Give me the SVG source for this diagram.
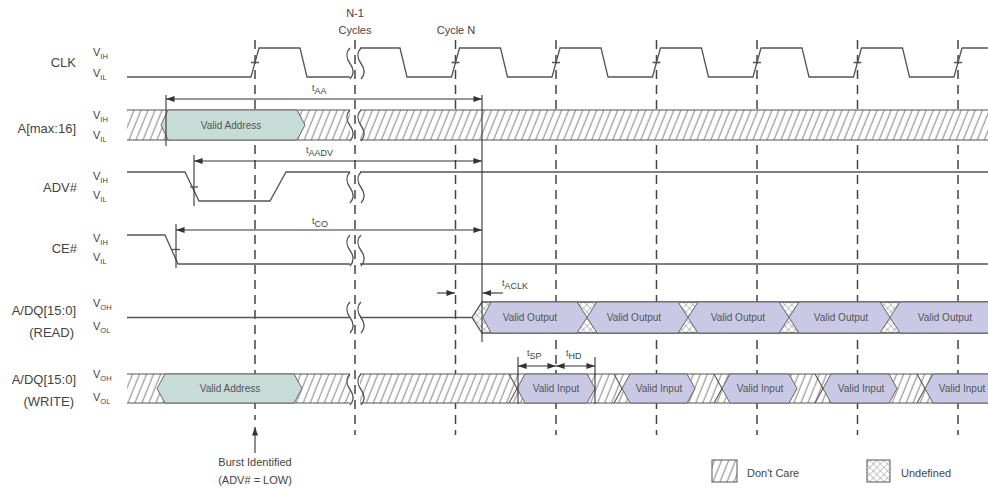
<svg xmlns="http://www.w3.org/2000/svg" width="988" height="489" viewBox="0 0 988 489">
<defs>
<pattern id="hatch" patternUnits="userSpaceOnUse" width="6.5" height="10" patternTransform="rotate(22)">
<rect width="6.5" height="10" fill="#fff"/>
<line x1="3" y1="-1" x2="3" y2="11" stroke="#707070" stroke-width="0.9"/>
</pattern>
<pattern id="xhatch" patternUnits="userSpaceOnUse" width="5" height="5" patternTransform="rotate(45)">
<rect width="5" height="5" fill="#fff"/>
<path d="M0,0 V5 M0,0 H5" stroke="#7a7a7a" stroke-width="0.8"/>
</pattern>
<marker id="ah" viewBox="0 0 10 7" refX="10" refY="3.5" markerWidth="9" markerHeight="6" markerUnits="userSpaceOnUse" orient="auto-start-reverse"><path d="M0,0 L10,3.5 L0,7 z" fill="#333"/></marker>
<path id="sq" d="M0,0 c-4,4 -4,10 0,15.5 c4,5.5 4,11 0,15.5" fill="none"/>
</defs>
<style>
.lbl{font-family:"Liberation Sans",Arial,sans-serif;fill:#444}
.sig{font-size:13px;text-anchor:end}
.v{font-size:11px}
.sub{font-size:7.5px}
.tl{font-size:9px}
.tl .sub{font-size:9px}
.wave{fill:none;stroke:#555;stroke-width:1.3}
.bus{fill:none;stroke:#555;stroke-width:1.1}
.va{fill:#c7dcd7;stroke:#666;stroke-width:1}
.vo{fill:#c9c9e6;stroke:#666;stroke-width:1}
.bt{font-family:"Liberation Sans",Arial,sans-serif;font-size:10px;fill:#555;text-anchor:middle}
.dash{stroke:#444;stroke-width:1.5;stroke-dasharray:9 6}
.conn{stroke:#333;stroke-width:1.1;fill:none}
.arr{stroke:#333;stroke-width:1.1;fill:none;marker-start:url(#ah);marker-end:url(#ah)}
.arr1{stroke:#333;stroke-width:1.1;fill:none;marker-end:url(#ah)}
.mid{text-anchor:middle}
</style>

<g id="gridlines">
<line class="dash" x1="255" y1="40" x2="255" y2="420"/>
<line class="dash" x1="355" y1="40" x2="355" y2="435"/>
<line class="dash" x1="455.5" y1="40" x2="455.5" y2="435"/>
<line class="dash" x1="556" y1="40" x2="556" y2="435"/>
<line class="dash" x1="656.5" y1="40" x2="656.5" y2="435"/>
<line class="dash" x1="757" y1="40" x2="757" y2="435"/>
<line class="dash" x1="857.5" y1="40" x2="857.5" y2="435"/>
<line class="dash" x1="958" y1="40" x2="958" y2="435"/>
</g>

<g id="top-labels" class="lbl" font-size="11">
<text x="355" y="17" class="mid">N-1</text>
<text x="355" y="34" class="mid">Cycles</text>
<text x="456" y="34" class="mid">Cycle N</text>
</g>

<g id="clk">
<text class="lbl sig" x="76" y="67">CLK</text>
<text class="lbl v" x="93" y="56">V<tspan class="sub" dy="3">IH</tspan></text>
<text class="lbl v" x="93" y="77">V<tspan class="sub" dy="3">IL</tspan></text>
<path class="wave" d="M127,77 H251 L259,48 H300 L307,77 H350 M360,48 H400 L407,77 H451.5 L459.5,48 H500.5 L507.5,77 H552 L560,48 H601 L608,77 H652.5 L660.5,48 H701.5 L708.5,77 H753 L761,48 H802 L809,77 H853.5 L861.5,48 H902.5 L909.5,77 H954 L962,48 H988"/>
<path class="wave" d="M251,62.5 h8 M451.5,62.5 h8 M552,62.5 h8 M652.5,62.5 h8 M753,62.5 h8 M853.5,62.5 h8 M954,62.5 h8"/>
<use href="#sq" x="350" y="48" class="wave"/>
<use href="#sq" x="361" y="48" class="wave"/>
</g>

<g id="addr">
<text class="lbl sig" x="76" y="133">A[max:16]</text>
<text class="lbl v" x="93" y="119">V<tspan class="sub" dy="3">IH</tspan></text>
<text class="lbl v" x="93" y="139">V<tspan class="sub" dy="3">IL</tspan></text>
<rect x="127" y="110" width="223" height="30" fill="url(#hatch)"/>
<rect x="360" y="110" width="635" height="30" fill="url(#hatch)"/>
<path class="bus" d="M127,110 H350 M360,110 H995 M127,140 H350 M360,140 H995"/>
<polygon class="va" points="161,125 168,110 297,110 305,125 297,140 168,140"/>
<text class="bt" x="231" y="129">Valid Address</text>
<use href="#sq" x="350" y="110" class="wave"/>
<use href="#sq" x="361" y="110" class="wave"/>
</g>

<g id="adv">
<text class="lbl sig" x="77" y="192">ADV#</text>
<text class="lbl v" x="93" y="180">V<tspan class="sub" dy="3">IH</tspan></text>
<text class="lbl v" x="93" y="199">V<tspan class="sub" dy="3">IL</tspan></text>
<path class="wave" d="M127,172 H185 L199,201 H270 L286,172 H350 M360,172 H988"/>
<path class="wave" d="M190,187 h8"/>
<use href="#sq" x="350" y="172" class="wave"/>
<use href="#sq" x="361" y="172" class="wave"/>
</g>

<g id="ce">
<text class="lbl sig" x="77" y="253">CE#</text>
<text class="lbl v" x="93" y="242">V<tspan class="sub" dy="3">IH</tspan></text>
<text class="lbl v" x="93" y="261">V<tspan class="sub" dy="3">IL</tspan></text>
<path class="wave" d="M127,235 H165 L178,264 H350 M360,264 H988"/>
<path class="wave" d="M172,249.5 h8"/>
<use href="#sq" x="350" y="235" class="wave"/>
<use href="#sq" x="361" y="235" class="wave"/>
</g>

<g id="dq-read">
<text class="lbl sig" x="76" y="315">A/DQ[15:0]</text>
<text class="lbl sig" x="74" y="337">(READ)</text>
<text class="lbl v" x="93" y="307">V<tspan class="sub" dy="3">OH</tspan></text>
<text class="lbl v" x="93" y="330">V<tspan class="sub" dy="3">OL</tspan></text>
<polygon points="472,317.5 482,302 995,302 995,333 482,333" fill="url(#xhatch)"/>
<path class="wave" d="M127,317.5 H350 M360,317.5 H472 L482,302 H995 M472,317.5 L482,333 H995"/>
<polygon class="vo" points="483,317.5 491,302 577,302 587,317.5 577,333 491,333"/>
<polygon class="vo" points="587,317.5 597,302 678,302 688,317.5 678,333 597,333"/>
<polygon class="vo" points="688,317.5 698,302 779,302 789,317.5 779,333 698,333"/>
<polygon class="vo" points="789,317.5 799,302 880,302 890,317.5 880,333 799,333"/>
<polygon class="vo" points="890,317.5 900,302 995,302 995,333 900,333"/>
<text class="bt" x="530" y="321">Valid Output</text>
<text class="bt" x="634" y="321">Valid Output</text>
<text class="bt" x="738" y="321">Valid Output</text>
<text class="bt" x="841" y="321">Valid Output</text>
<text class="bt" x="945" y="321">Valid Output</text>
<use href="#sq" x="350" y="302" class="wave"/>
<use href="#sq" x="361" y="302" class="wave"/>
</g>

<g id="dq-write">
<text class="lbl sig" x="76" y="384">A/DQ[15:0]</text>
<text class="lbl sig" x="74" y="406">(WRITE)</text>
<text class="lbl v" x="93" y="378">V<tspan class="sub" dy="3">OH</tspan></text>
<text class="lbl v" x="93" y="401">V<tspan class="sub" dy="3">OL</tspan></text>
<rect x="127" y="374" width="223" height="29" fill="url(#hatch)"/>
<rect x="360" y="374" width="635" height="29" fill="url(#hatch)"/>
<path class="bus" d="M127,374 H350 M360,374 H995 M127,403 H350 M360,403 H995"/>
<polygon class="va" points="157,388.5 165,374 294,374 302,388.5 294,403 165,403"/>
<text class="bt" x="230" y="392">Valid Address</text>
<polygon class="vo" points="517,388.5 525,374 587,374 595,388.5 587,403 525,403"/>
<polygon class="vo" points="622,388.5 630,374 687,374 695,388.5 687,403 630,403"/>
<polygon class="vo" points="722,388.5 730,374 789,374 797,388.5 789,403 730,403"/>
<polygon class="vo" points="823,388.5 831,374 889,374 897,388.5 889,403 831,403"/>
<polygon class="vo" points="925,388.5 933,374 995,374 995,403 933,403"/>
<path class="bus" d="M509,374 L517,388.5 L509,403 M614,374 L622,388.5 L614,403 M714,374 L722,388.5 L714,403 M815,374 L823,388.5 L815,403 M917,374 L925,388.5 L917,403"/>
<text class="bt" x="556" y="392">Valid Input</text>
<text class="bt" x="659" y="392">Valid Input</text>
<text class="bt" x="760" y="392">Valid Input</text>
<text class="bt" x="861" y="392">Valid Input</text>
<text class="bt" x="962" y="392">Valid Input</text>
<use href="#sq" x="350" y="374" class="wave"/>
<use href="#sq" x="361" y="374" class="wave"/>
</g>

<g id="connectors">
<line class="conn" x1="166" y1="95" x2="166" y2="146"/>
<line class="conn" x1="194" y1="155" x2="194" y2="206"/>
<line class="conn" x1="176" y1="224" x2="176" y2="268"/>
<line class="conn" x1="482" y1="95" x2="482" y2="342"/>
<line class="arr" x1="166" y1="99" x2="482" y2="99"/>
<line class="arr" x1="194" y1="161" x2="482" y2="161"/>
<line class="arr" x1="176" y1="230" x2="482" y2="230"/>
<line class="arr1" x1="437" y1="293" x2="455" y2="293"/>
<line class="arr1" x1="503" y1="293" x2="482.5" y2="293"/>
<line class="conn" x1="518" y1="357" x2="518" y2="404"/>
<line class="conn" x1="595" y1="357" x2="595" y2="404"/>
<line class="arr" x1="518" y1="366" x2="556" y2="366"/>
<line class="arr" x1="556" y1="366" x2="595" y2="366"/>
<line class="arr1" x1="255" y1="453" x2="255" y2="427"/>
</g>

<g id="timing-labels" class="lbl tl">
<text x="312" y="91">t<tspan class="sub" dy="3">AA</tspan></text>
<text x="306" y="153">t<tspan class="sub" dy="3">AADV</tspan></text>
<text x="312" y="224">t<tspan class="sub" dy="3">CO</tspan></text>
<text x="502" y="286">t<tspan class="sub" dy="3">ACLK</tspan></text>
<text x="527" y="356">t<tspan class="sub" dy="3">SP</tspan></text>
<text x="566" y="356">t<tspan class="sub" dy="3">HD</tspan></text>
</g>

<g id="burst" class="lbl" font-size="11">
<text x="255" y="466" class="mid">Burst Identified</text>
<text x="255" y="484" class="mid">(ADV# = LOW)</text>
</g>

<g id="legend" class="lbl" font-size="11">
<rect x="712" y="460" width="25" height="22" fill="url(#hatch)" stroke="#555" stroke-width="1"/>
<text x="747" y="477">Don't Care</text>
<rect x="867" y="460" width="23" height="22" fill="url(#xhatch)" stroke="#555" stroke-width="1"/>
<text x="901" y="477">Undefined</text>
</g>
</svg>
